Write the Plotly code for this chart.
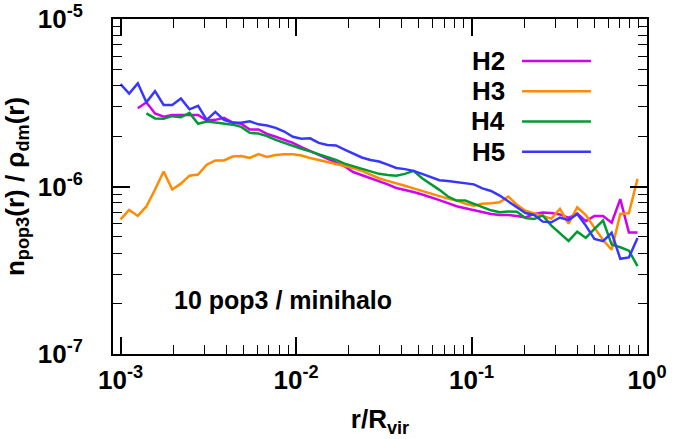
import plotly.graph_objects as go

# r / R_vir bin centres
r = [1.000e-3, 1.120e-3, 1.254e-3, 1.404e-3, 1.572e-3, 1.760e-3, 1.971e-3, 2.207e-3,
     2.471e-3, 2.767e-3, 3.097e-3, 3.468e-3, 3.883e-3, 4.348e-3, 4.868e-3, 5.451e-3,
     6.103e-3, 6.833e-3, 7.651e-3, 8.567e-3, 9.594e-3, 1.074e-2, 1.203e-2, 1.347e-2,
     1.508e-2, 1.689e-2, 1.891e-2, 2.117e-2, 2.371e-2, 2.654e-2, 2.972e-2, 3.328e-2,
     3.726e-2, 4.172e-2, 4.671e-2, 5.231e-2, 5.857e-2, 6.558e-2, 7.343e-2, 8.222e-2,
     9.205e-2, 0.1031, 0.1154, 0.1292, 0.1447, 0.1620, 0.1814, 0.2031, 0.2274, 0.2546,
     0.2851, 0.3192, 0.3574, 0.4002, 0.4481, 0.5017, 0.5618, 0.6290, 0.7043, 0.7886,
     0.8831]

# values in units of 1e-6
h2 = [None, None,
      2.93, 3.18, 2.73, 2.61, 2.67, 2.67, 2.69, 2.67, 2.48, 2.50, 2.57, 2.41, 2.37,
      2.19, 2.19, 2.06, 1.98, 1.90, 1.82, 1.72, 1.63, 1.55, 1.48, 1.39, 1.32, 1.22,
      1.17, 1.12, 1.08, 1.03, 0.98, 0.955, 0.928, 0.896, 0.865, 0.829, 0.795, 0.762,
      0.741, 0.721, 0.701, 0.686, 0.676, 0.676, 0.667, 0.653, 0.686, 0.699, 0.695,
      0.681, 0.649, 0.691, 0.621, 0.667, 0.667, 0.608, 0.841, 0.532, 0.531]
h3 = [0.637, 0.725, 0.667, 0.76, 0.96, 1.23, 0.96, 1.04, 1.16, 1.18, 1.35, 1.43, 1.43,
      1.51, 1.52, 1.48, 1.56, 1.50, 1.54, 1.56, 1.56, 1.53, 1.48, 1.44, 1.40, 1.35,
      1.32, 1.29, 1.24, 1.18, 1.12, 1.08, 1.04, 1.01, 0.975, 0.94, 0.908, 0.871, 0.847,
      0.824, 0.79, 0.767, 0.79, 0.795, 0.806, 0.871, 0.778, 0.716, 0.693, 0.667, 0.643,
      0.736, 0.60, 0.752, 0.676, 0.568, 0.48, 0.419, 0.686, 0.693, 1.11]
h4 = [None, None, None,
      2.73, 2.55, 2.54, 2.63, 2.59, 2.75, 2.37, 2.44, 2.41, 2.37, 2.34, 2.27, 2.09,
      2.07, 2.00, 1.90, 1.82, 1.76, 1.68, 1.62, 1.56, 1.50, 1.44, 1.37, 1.32, 1.27,
      1.23, 1.19, 1.17, 1.16, 1.19, 1.24, 1.12, 1.04, 0.955, 0.871, 0.824, 0.824, 0.79,
      0.754, 0.721, 0.701, 0.71, 0.706, 0.649, 0.639, 0.672, 0.584, 0.522, 0.473,
      0.537, 0.493, 0.559, 0.626, 0.45, 0.434, 0.414, 0.335]
h5 = [4.08, 3.59, 4.13, 3.18, 3.71, 3.07, 3.07, 3.35, 2.89, 3.03, 2.50, 2.79, 2.50, 2.41,
      2.40, 2.45, 2.35, 2.31, 2.24, 2.13, 1.98, 1.93, 1.94, 1.82, 1.77, 1.76, 1.66, 1.58,
      1.49, 1.44, 1.41, 1.35, 1.29, 1.27, 1.24, 1.19, 1.14, 1.09, 1.08, 1.06, 1.05, 1.03,
      0.975, 0.94, 0.883, 0.812, 0.752, 0.695, 0.676, 0.617, 0.611, 0.653, 0.63, 0.686,
      0.584, 0.486, 0.472, 0.529, 0.37, 0.377, 0.493]

names = ["H2", "H3", "H4", "H5"]
colors = ["#D000F0", "#FF8C00", "#009A33", "#3737FF"]
series = [h2, h3, h4, h5]

x_range = [-3.043, 0.0]
y_range = [-7, -5]
x_major = [1e-3, 1e-2, 1e-1, 1e0]
x_major_text = ["10<sup>-3</sup>", "10<sup>-2</sup>", "10<sup>-1</sup>", "10<sup>0</sup>"]
y_major = [1e-7, 1e-6, 1e-5]
y_major_text = ["10<sup>-7</sup>", "10<sup>-6</sup>", "10<sup>-5</sup>"]
x_minor = [m * 10.0 ** e for e in range(-4, 0) for m in range(2, 10)]
y_minor = [m * 10.0 ** e for e in range(-7, -5) for m in range(2, 10)]

FONT = "Liberation Sans, Arial, Helvetica, sans-serif"

fig = go.Figure()
for name, col, vals in zip(names, colors, series):
    fig.add_trace(go.Scatter(
        x=r, y=[None if v is None else v * 1e-6 for v in vals],
        mode="lines", name=name, line=dict(color=col, width=2.5),
        showlegend=False))
# empty trace so that the overlay (minor-tick) axes get drawn
fig.add_trace(go.Scatter(x=[None], y=[None], xaxis="x2", yaxis="y2",
                         mode="lines", showlegend=False, hoverinfo="skip"))

axis_common = dict(
    showgrid=False, zeroline=False, showline=True, linecolor="black", linewidth=2,
    mirror="ticks", ticks="inside", ticklen=17, tickwidth=1.5, tickcolor="black",
    tickfont=dict(family=FONT, size=26, color="black", weight="bold"),
)
minor_common = dict(
    ticks="inside", ticklen=9, tickwidth=1.2, tickcolor="black",
    mirror="ticks", showline=False, showgrid=False, zeroline=False,
    showticklabels=False,
)

fig.update_layout(
    xaxis=dict(
        type="log", range=x_range, tickmode="array", tickvals=x_major, ticktext=x_major_text,
        title=dict(text="r/R<sub>vir</sub>", standoff=16,
                   font=dict(family=FONT, size=26, color="black", weight="bold")),
        ticklabelstandoff=2,
        **axis_common),
    yaxis=dict(
        type="log", range=y_range, tickmode="array", tickvals=y_major, ticktext=y_major_text,
        title=dict(text="n<sub>pop3</sub>(r) / ρ<sub>dm</sub>(r)", standoff=8,
                   font=dict(family=FONT, size=26, color="black", weight="bold")),
        ticklabelstandoff=23,
        **axis_common),
    xaxis2=dict(type="log", range=x_range, overlaying="x", anchor="y2", side="bottom",
                tickmode="array", tickvals=x_minor, **minor_common),
    yaxis2=dict(type="log", range=y_range, overlaying="y", anchor="x2", side="left",
                tickmode="array", tickvals=y_minor, **minor_common),
)

# manual legend (text left of sample line)
legend_y = [0.8745, 0.7842, 0.6944, 0.6041]
for name, col, ly in zip(names, colors, legend_y):
    fig.add_annotation(xref="paper", yref="paper", x=0.738, y=ly, text=name,
                       showarrow=False, xanchor="right", yanchor="middle",
                       font=dict(family=FONT, size=26, color="black", weight="bold"))
    fig.add_shape(type="line", xref="paper", yref="paper", x0=0.766, x1=0.895,
                  y0=ly, y1=ly, line=dict(color=col, width=2.5))

fig.add_annotation(xref="paper", yref="paper", x=0.110, y=0.161,
                   text="10 pop3 / minihalo", showarrow=False,
                   xanchor="left", yanchor="middle",
                   font=dict(family=FONT, size=25, color="black", weight="bold"))

fig.update_layout(
    width=683, height=439,
    margin=dict(l=113, r=36, t=19, b=85, autoexpand=False),
    paper_bgcolor="white", plot_bgcolor="white",
)

fig.write_html("out.html")
